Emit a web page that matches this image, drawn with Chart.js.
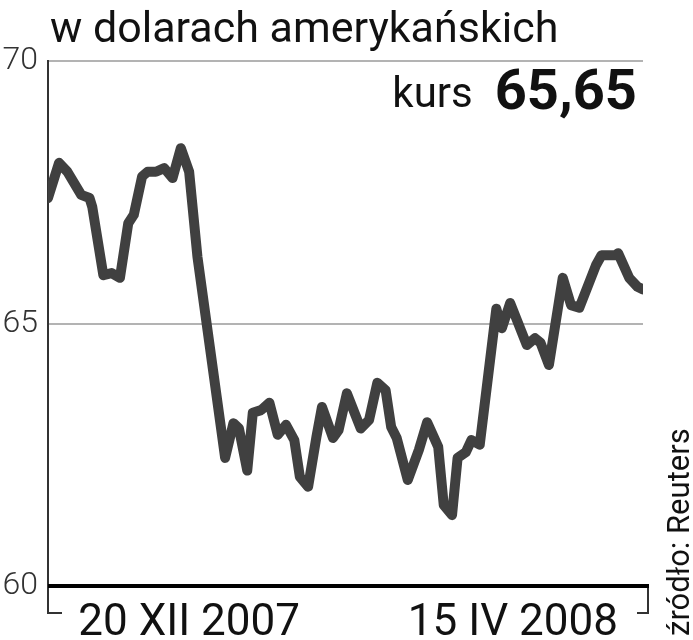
<!DOCTYPE html>
<html>
<head>
<meta charset="utf-8">
<script src="https://cdn.jsdelivr.net/npm/chart.js@4.4.1/dist/chart.umd.min.js"></script>
<style>
  html, body { margin: 0; padding: 0; background: #fff; }
</style>
</head>
<body>
<canvas id="rateChart" width="693" height="640"></canvas>
<script>
// x = days counted from the left edge of the chart (end of Oct 2007)
const days = [0, 4, 7, 12, 15, 16, 20, 23, 26, 29, 31, 34, 36, 39, 42, 45, 48, 51, 54, 64,
    67, 69, 72, 74, 77, 80, 83, 86, 89, 91, 94, 97, 99, 103, 105, 108, 113, 116, 119, 122,
    124, 126, 130, 134, 137, 141, 143, 146, 148, 151, 153, 156, 162, 164, 167, 173, 176, 178, 181, 186,
    189, 192, 198, 200, 205, 206, 210, 213, 215];
const rates = [67.39, 68.06, 67.89, 67.45, 67.39, 67.22, 65.92, 65.96, 65.87, 66.91,
    67.07, 67.80, 67.89, 67.89, 67.96, 67.77, 68.34, 67.89, 66.27, 62.44,
    63.10, 63.00, 62.20, 63.30, 63.35, 63.49, 62.88, 63.07, 62.78, 62.08,
    61.89, 62.84, 63.41, 62.82, 62.97, 63.67, 63.00, 63.16, 63.87, 63.73,
    63.03, 62.82, 62.02, 62.59, 63.12, 62.65, 61.54, 61.35, 62.44, 62.55,
    62.78, 62.69, 65.28, 64.91, 65.39, 64.59, 64.72, 64.63, 64.21, 65.87,
    65.35, 65.30, 66.11, 66.30, 66.30, 66.34, 65.87, 65.70, 65.65];
const tickDays = [51, 168];
const tickLabels = ["20 XII 2007", "15 IV 2008"];
const yMin = 60, yMax = 70, yStep = 5;

const titleText = "w dolarach amerykańskich";
const kursLabel = "kurs";
const kursValue = "65,65";
const sourceText = "źródło: Reuters";

// title, current rate, source note and the little axis brackets
const extras = {
    id: "extras",
    afterDraw(chart) {
        const { ctx, chartArea: a } = chart;
        ctx.save();
        ctx.fillStyle = "#111";
        ctx.textBaseline = "alphabetic";

        ctx.textAlign = "left";
        ctx.font = "43px Roboto";
        ctx.fillText(titleText, a.left + 2, 42);

        ctx.textAlign = "right";
        ctx.font = "bold 56px Roboto";
        const valueWidth = ctx.measureText(kursValue).width;
        ctx.fillText(kursValue, a.right - 6, a.top + 48);
        ctx.font = "42px Roboto";
        ctx.fillText(kursLabel, a.right - 6 - valueWidth - 22, a.top + 46);

        ctx.save();
        ctx.translate(a.right + 46, a.bottom + 50);
        ctx.rotate(-Math.PI / 2);
        ctx.textAlign = "left";
        ctx.font = "31px Roboto";
        ctx.fillText(sourceText, 0, 0);
        ctx.restore();

        ctx.strokeStyle = "#333";
        ctx.lineWidth = 2;
        ctx.beginPath();
        ctx.moveTo(a.left, a.bottom);
        ctx.lineTo(a.left, a.bottom + 27);
        ctx.lineTo(a.left + 14, a.bottom + 27);
        ctx.moveTo(a.right + 5, a.bottom - 2);
        ctx.lineTo(a.right + 5, a.bottom + 27);
        ctx.lineTo(a.right - 6, a.bottom + 27);
        ctx.stroke();

        ctx.strokeStyle = "#000";
        ctx.lineWidth = 4;
        ctx.beginPath();
        ctx.moveTo(a.left, a.bottom);
        ctx.lineTo(a.right + 6, a.bottom);
        ctx.stroke();
        ctx.restore();
    }
};

new Chart(document.getElementById("rateChart"), {
    type: "line",
    data: {
        datasets: [{
            data: days.map((d, i) => ({ x: d, y: rates[i] })),
            borderColor: "#404040",
            borderWidth: 10,
            borderJoinStyle: "round",
            borderCapStyle: "round",
            pointRadius: 0,
            tension: 0,
            fill: false
        }]
    },
    options: {
        responsive: false,
        animation: false,
        devicePixelRatio: 1,
        layout: { padding: { top: 61, right: 50, bottom: 0, left: 0 } },
        plugins: {
            legend: { display: false },
            tooltip: { enabled: false }
        },
        scales: {
            x: {
                type: "linear",
                min: days[0],
                max: days[days.length - 1],
                afterBuildTicks: (scale) => {
                    scale.ticks = tickDays.map((v) => ({ value: v }));
                },
                afterFit: (scale) => { scale.height = 54; },
                grid: { display: false },
                border: { display: false },
                ticks: {
                    autoSkip: false,
                    maxRotation: 0,
                    padding: 4,
                    color: "#111",
                    font: { family: "Roboto", size: 44 },
                    callback: (v) => tickLabels[tickDays.indexOf(v)]
                }
            },
            y: {
                min: yMin,
                max: yMax,
                afterFit: (scale) => { scale.width = 48; },
                grid: { color: "#b3b3b3", lineWidth: 2, drawTicks: false },
                border: { color: "#333", width: 2 },
                ticks: {
                    stepSize: yStep,
                    padding: 10,
                    color: "#333",
                    font: { family: "Roboto", size: 32, weight: 300 }
                }
            }
        }
    },
    plugins: [extras]
});
</script>
</body>
</html>
